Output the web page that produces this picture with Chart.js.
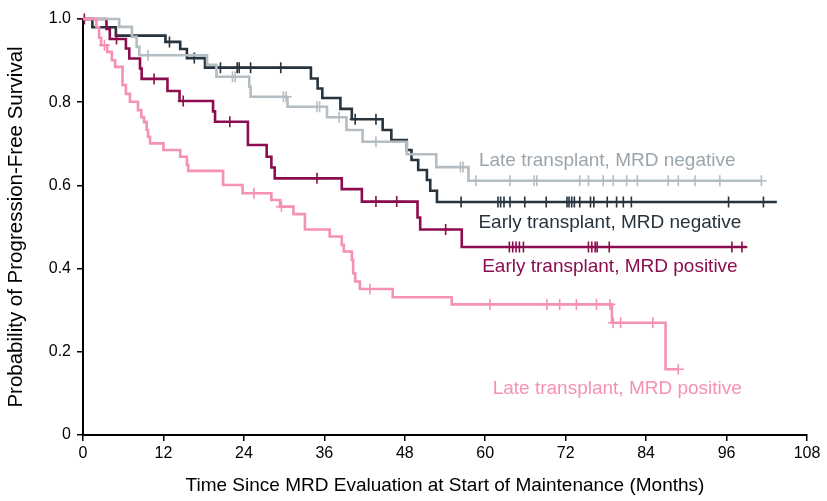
<!DOCTYPE html>
<html lang="en">
<head>
  <meta charset="UTF-8" />
  <title>Progression-Free Survival by MRD status</title>
  <script src="https://cdn.jsdelivr.net/npm/chart.js"></script>
  <style>
    html, body { margin: 0; padding: 0; background: #fff; }
    #wrap { width: 827px; height: 501px; position: relative; }
  </style>
</head>
<body>
  <div id="wrap"><canvas id="chart"></canvas></div>

  <script>
    // axis ticks
    const xTicks = [0, 12, 24, 36, 48, 60, 72, 84, 96, 108];
    const yTicks = [0, 0.2, 0.4, 0.6, 0.8, 1.0];

    // Late transplant, MRD negative (event times in months, survival after event)
    const lateNegTimes = [5.4, 7.3, 8.0, 8.4, 18.5, 19.9, 24.8, 25.0, 30.5, 36.4, 39.3, 41.7, 48.3, 52.7, 57.5];
    const lateNegSurv  = [0.981, 0.957, 0.933, 0.913, 0.890, 0.861, 0.837, 0.813, 0.789, 0.764, 0.733, 0.705, 0.675, 0.644, 0.611];
    const lateNegCensor = [9.7, 22.3, 22.7, 29.9, 30.3, 34.9, 35.3, 38.2, 43.7, 56.3, 56.7, 58.6, 63.7, 67.3, 67.7,
                           74.1, 75.4, 77.6, 79.1, 81.1, 82.7, 87.3, 88.8, 91.3, 95.0, 101.2];
    const lateNegEnd = 101.2;

    // Early transplant, MRD negative
    const earlyNegTimes = [1.4, 4.9, 12.3, 14.5, 15.5, 18.2, 34.0, 35.0, 35.7, 38.4, 40.1, 44.7, 46.0, 48.3, 49.0, 50.0, 51.3, 51.8, 52.8];
    const earlyNegSurv  = [0.980, 0.960, 0.945, 0.928, 0.906, 0.883, 0.857, 0.833, 0.810, 0.784, 0.759, 0.733, 0.709, 0.685, 0.661, 0.637, 0.613, 0.587, 0.560];
    const earlyNegCensor = [12.9, 16.6, 20.5, 23.0, 23.3, 25.0, 29.5, 40.6, 43.7, 56.4, 61.9, 62.3, 62.8, 63.7, 65.9, 69.1,
                            72.2, 72.5, 72.9, 73.3, 74.1, 75.7, 76.2, 78.2, 79.6, 80.6, 81.8, 96.3, 101.5];
    const earlyNegEnd = 103.5;

    // Early transplant, MRD positive
    const earlyPosTimes = [3.5, 4.0, 6.4, 6.9, 8.5, 8.75, 12.6, 14.4, 19.4, 19.7, 24.6, 27.4, 28.1, 28.6, 38.6, 41.6, 49.9, 50.3, 56.5];
    const earlyPosSurv  = [0.976, 0.952, 0.929, 0.905, 0.881, 0.856, 0.827, 0.803, 0.778, 0.753, 0.697, 0.669, 0.643, 0.617, 0.591, 0.561, 0.523, 0.494, 0.452];
    const earlyPosCensor = [0.2, 5.0, 10.6, 14.95, 21.9, 34.9, 43.7, 46.8, 54.1, 63.6, 64.1, 64.6, 65.1, 65.7,
                            75.4, 75.9, 76.4, 76.7, 78.5, 96.8, 98.3];
    const earlyPosEnd = 99.0;

    // Late transplant, MRD positive
    const latePosTimes = [2.0, 2.4, 2.7, 3.6, 4.3, 4.8, 5.9, 6.4, 7.0, 8.2, 8.7, 9.1, 9.5, 9.7, 10.0, 12.0, 14.5, 15.5, 15.7,
                          20.9, 23.8, 28.1, 29.4, 31.4, 33.1, 36.8, 38.6, 38.9, 40.1, 40.3, 40.6, 41.3, 46.2, 55.0, 78.9, 86.9];
    const latePosSurv  = [0.980, 0.955, 0.937, 0.921, 0.901, 0.885, 0.841, 0.820, 0.801, 0.781, 0.764, 0.752, 0.733, 0.717, 0.701,
                          0.685, 0.669, 0.649, 0.635, 0.601, 0.581, 0.565, 0.549, 0.531, 0.494, 0.477, 0.457, 0.441, 0.421,
                          0.389, 0.369, 0.351, 0.331, 0.314, 0.270, 0.158];
    const latePosCensor = [3.2, 25.5, 29.6, 42.8, 60.7, 69.2, 71.1, 73.6, 76.6, 78.6, 79.1, 80.2, 85.0, 88.8];
    const latePosEnd = 88.8;

    const seriesNames = [
      "Late transplant, MRD negative",
      "Early transplant, MRD negative",
      "Early transplant, MRD positive",
      "Late transplant, MRD positive"
    ];

    const colors = {
      lateNeg: "#b4bdc2", lateNegText: "#9aa5ac",
      earlyNeg: "#27333d",
      earlyPos: "#8c0d4f",
      latePos: "#f591b3"
    };

    function stepPoints(times, surv, end) {
      const pts = [{ x: 0, y: 1 }];
      times.forEach((t, i) => pts.push({ x: t, y: surv[i] }));
      pts.push({ x: end, y: surv[surv.length - 1] });
      return pts;
    }

    function survAt(times, surv, t) {
      let s = 1;
      for (let i = 0; i < times.length; i++) {
        if (times[i] <= t) s = surv[i];
      }
      return s;
    }

    function censorPoints(times, surv, censor) {
      return censor.map(t => ({ x: t, y: survAt(times, surv, t) }));
    }

    function curve(label, pts, color) {
      return {
        label: label, data: pts, borderColor: color, backgroundColor: color,
        borderWidth: 2.6, showLine: true, stepped: "before", pointRadius: 0, fill: false, clip: false
      };
    }

    function marks(pts, color) {
      return {
        data: pts, showLine: false, pointStyle: "cross", pointRadius: 5.5,
        borderColor: color, borderWidth: 1.6, clip: false
      };
    }

    const datasets = [
      curve(seriesNames[3], stepPoints(latePosTimes, latePosSurv, latePosEnd), colors.latePos),
      marks(censorPoints(latePosTimes, latePosSurv, latePosCensor), colors.latePos),
      curve(seriesNames[0], stepPoints(lateNegTimes, lateNegSurv, lateNegEnd), colors.lateNeg),
      marks(censorPoints(lateNegTimes, lateNegSurv, lateNegCensor), colors.lateNeg),
      curve(seriesNames[2], stepPoints(earlyPosTimes, earlyPosSurv, earlyPosEnd), colors.earlyPos),
      marks(censorPoints(earlyPosTimes, earlyPosSurv, earlyPosCensor), colors.earlyPos),
      curve(seriesNames[1], stepPoints(earlyNegTimes, earlyNegSurv, earlyNegEnd), colors.earlyNeg),
      marks(censorPoints(earlyNegTimes, earlyNegSurv, earlyNegCensor), colors.earlyNeg)
    ];

    // curve labels placed inside the plot
    const curveLabels = [
      { text: seriesNames[0], x: 78.2, y: 0.659, color: colors.lateNegText },
      { text: seriesNames[1], x: 78.6, y: 0.510, color: colors.earlyNeg },
      { text: seriesNames[2], x: 78.6, y: 0.404, color: colors.earlyPos },
      { text: seriesNames[3], x: 79.7, y: 0.111, color: colors.latePos }
    ];

    const labelPlugin = {
      id: "curveLabels",
      afterDatasetsDraw(chart) {
        const ctx = chart.ctx;
        const xs = chart.scales.x, ys = chart.scales.y;
        ctx.save();
        ctx.font = "19px 'Liberation Sans', Arial, sans-serif";
        ctx.textAlign = "center";
        ctx.textBaseline = "middle";
        curveLabels.forEach(l => {
          ctx.fillStyle = l.color;
          ctx.fillText(l.text, xs.getPixelForValue(l.x), ys.getPixelForValue(l.y));
        });
        ctx.restore();
      }
    };

    const tickFont = { family: "'Liberation Sans Narrow', 'Liberation Sans', Arial, sans-serif", size: 16 };

    new Chart(document.getElementById("chart"), {
      type: "scatter",
      data: { datasets: datasets },
      options: {
        responsive: true,
        maintainAspectRatio: false,
        animation: false,
        layout: { padding: { top: 19, right: 20, left: 0, bottom: 0 } },
        plugins: { legend: { display: false }, tooltip: { enabled: false } },
        scales: {
          x: {
            type: "linear", min: 0, max: 108,
            afterBuildTicks: s => { s.ticks = xTicks.map(v => ({ value: v })); },
            afterFit: s => { s.height = 66; },
            grid: { drawOnChartArea: false, color: "#000", tickLength: 6, lineWidth: 1.5 },
            border: { color: "#000", width: 2 },
            ticks: { color: "#000", font: tickFont, padding: 3, maxRotation: 0 },
            title: { display: true, text: "Time Since MRD Evaluation at Start of Maintenance (Months)", color: "#000",
                     font: { family: "'Liberation Sans', Arial, sans-serif", size: 19 }, padding: { top: 4 } }
          },
          y: {
            type: "linear", min: 0, max: 1,
            afterBuildTicks: s => { s.ticks = yTicks.map(v => ({ value: v })); },
            afterFit: s => { s.width = 83; },
            grid: { drawOnChartArea: false, color: "#000", tickLength: 6, lineWidth: 1.5 },
            border: { color: "#000", width: 2 },
            ticks: { color: "#000", font: tickFont, padding: 6, callback: v => v === 0 ? "0" : v.toFixed(1) },
            title: { display: true, text: "Probability of Progression-Free Survival", color: "#000",
                     font: { family: "'Liberation Sans', Arial, sans-serif", size: 20.5 }, padding: { top: 4, bottom: 0 } }
          }
        }
      },
      plugins: [labelPlugin]
    });
  </script>
</body>
</html>
